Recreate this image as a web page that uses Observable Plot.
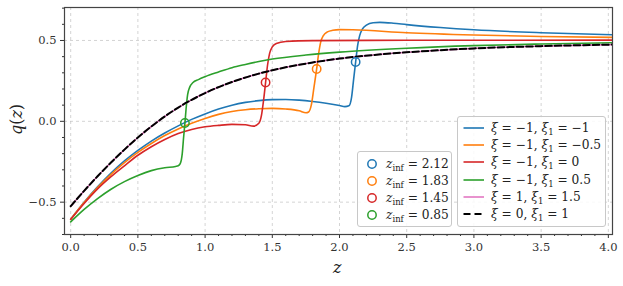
<!DOCTYPE html>
<html><head><meta charset="utf-8">
<script src="https://cdn.jsdelivr.net/npm/d3@7"></script>
<script src="https://cdn.jsdelivr.net/npm/@observablehq/plot@0.6"></script>
<style>
body{margin:0;background:#fff;}
#wrap{position:relative;width:623px;height:286px;font-family:"DejaVu Serif",serif;color:#222;}
#wrap svg text{font-family:"DejaVu Serif",serif !important;font-size:11.5px;fill:#333;}
.leg{position:absolute;background:rgba(255,255,255,0.85);border:1px solid #c8c8c8;border-radius:3px;box-sizing:border-box;}
.row{position:absolute;height:18px;display:flex;align-items:center;font-size:12.2px;white-space:nowrap;}
.row sub{font-size:8.5px;vertical-align:-3px;line-height:0;}
.lab{position:absolute;font-size:16px;font-style:italic;}
</style></head>
<body><div id="wrap"></div>
<script>
// ---- data ----
const zBlue = [0,0.1,0.2,0.3,0.4,0.5,0.6,0.7,0.8,0.9,1.0,1.1,1.2,1.3,1.4,1.5,1.6,1.7,1.8,1.9,2.0,2.04,2.07,2.09,2.105,2.12,2.135,2.15,2.17,2.2,2.25,2.3,2.4,2.5,2.75,3.0,3.5,4.05];
const qBlue = [-0.605,-0.5,-0.405,-0.32,-0.245,-0.18,-0.122,-0.072,-0.028,0.012,0.046,0.076,0.1,0.117,0.128,0.134,0.135,0.131,0.123,0.112,0.098,0.091,0.096,0.15,0.26,0.367,0.47,0.53,0.57,0.595,0.61,0.612,0.607,0.598,0.58,0.566,0.548,0.535];

const zOrange = [0,0.1,0.2,0.3,0.4,0.5,0.6,0.7,0.8,0.9,1.0,1.1,1.2,1.3,1.4,1.5,1.6,1.7,1.75,1.77,1.79,1.81,1.83,1.845,1.86,1.88,1.91,1.95,2.0,2.1,2.5,3.0,3.5,4.05];
const qOrange = [-0.605,-0.502,-0.41,-0.328,-0.255,-0.192,-0.137,-0.088,-0.047,-0.012,0.018,0.043,0.061,0.072,0.078,0.08,0.076,0.065,0.053,0.058,0.1,0.21,0.324,0.42,0.49,0.53,0.553,0.563,0.567,0.566,0.548,0.534,0.525,0.519];

const zRed = [0,0.1,0.2,0.3,0.4,0.5,0.6,0.7,0.8,0.9,1.0,1.1,1.2,1.3,1.36,1.40,1.42,1.435,1.45,1.465,1.48,1.5,1.53,1.6,1.8,2.5,4.05];
const qRed = [-0.607,-0.508,-0.418,-0.342,-0.275,-0.21,-0.157,-0.112,-0.075,-0.05,-0.034,-0.025,-0.019,-0.021,-0.03,-0.012,0.04,0.13,0.24,0.35,0.42,0.46,0.482,0.494,0.499,0.501,0.502];

const zGreen = [0,0.1,0.2,0.3,0.4,0.5,0.6,0.7,0.78,0.8,0.815,0.83,0.84,0.85,0.86,0.87,0.885,0.91,0.95,1.0,1.1,1.2,1.3,1.4,1.5,1.75,2.0,2.5,3.0,3.5,4.05];
const qGreen = [-0.622,-0.545,-0.478,-0.42,-0.373,-0.335,-0.305,-0.287,-0.279,-0.275,-0.262,-0.2,-0.1,-0.01,0.09,0.165,0.21,0.24,0.258,0.276,0.305,0.332,0.352,0.37,0.385,0.41,0.428,0.452,0.468,0.478,0.486];

const zPink = [0,0.1,0.2,0.3,0.4,0.5,0.6,0.7,0.8,0.9,1.0,1.2,1.4,1.6,1.8,2.0,2.25,2.5,2.75,3.0,3.5,4.05];
const qPink = [-0.525,-0.43,-0.34,-0.255,-0.175,-0.1,-0.032,0.03,0.085,0.133,0.175,0.243,0.295,0.334,0.364,0.388,0.41,0.427,0.44,0.451,0.465,0.475];

const zBlack = [0,0.1,0.2,0.3,0.4,0.5,0.6,0.7,0.8,0.9,1.0,1.2,1.4,1.6,1.8,2.0,2.25,2.5,2.75,3.0,3.5,4.05];
const qBlack = [-0.525,-0.43,-0.34,-0.255,-0.175,-0.1,-0.032,0.03,0.085,0.133,0.175,0.243,0.295,0.334,0.364,0.388,0.41,0.427,0.44,0.451,0.465,0.475];

const zInf = [2.12, 1.83, 1.45, 0.85];
const qInf = [0.367, 0.324, 0.24, -0.01];
const infLabels = ["2.12", "1.83", "1.45", "0.85"];

const seriesLabels = [
  ["−1","−1"],["−1","−0.5"],["−1","0"],["−1","0.5"],["1","1.5"],["0","1"]
];
const colors = ["#1f77b4","#ff7f0e","#d62728","#2ca02c","#e377c2","#000000"];

const xMajor = [0,0.5,1,1.5,2,2.5,3,3.5,4];
const xMinor = [0.1,0.2,0.3,0.4,0.6,0.7,0.8,0.9,1.1,1.2,1.3,1.4,1.6,1.7,1.8,1.9,2.1,2.2,2.3,2.4,2.6,2.7,2.8,2.9,3.1,3.2,3.3,3.4,3.6,3.7,3.8,3.9];
const yMajor = [-0.5,0,0.5];
const yMinor = [-0.7,-0.6,-0.4,-0.3,-0.2,-0.1,0.1,0.2,0.3,0.4,0.6,0.7];

// ---- build ----
const toRows = (zs, qs) => zs.map((z,i)=>({z, q: qs[i]}));
const series = [
  toRows(zBlue,qBlue), toRows(zOrange,qOrange), toRows(zRed,qRed),
  toRows(zGreen,qGreen), toRows(zPink,qPink), toRows(zBlack,qBlack)
];
const circles = zInf.map((z,i)=>({z, q:qInf[i], c:colors[i]}));

const lineMarks = series.map((d,i)=>Plot.line(d,{
  x:"z", y:"q", curve:"monotone-x", clip:true,
  stroke: colors[i],
  strokeWidth: i===5 ? 2 : 1.6,
  strokeDasharray: i===5 ? "6.5,3" : null
}));

const FONT = '"DejaVu Serif", serif';
const chart = Plot.plot({
  width:623, height:286,
  marginLeft:64, marginRight:11, marginTop:7, marginBottom:52,
  style:{fontFamily:FONT, fontSize:"11.5px", color:"#333", background:"transparent"},
  x:{domain:[-0.046,4.031]},
  y:{domain:[-0.70,0.704]},
  marks:[
    Plot.gridX(xMajor,{stroke:"#bbb",strokeOpacity:0.8,strokeDasharray:"3,3",strokeWidth:0.8}),
    Plot.gridY(yMajor,{stroke:"#bbb",strokeOpacity:0.8,strokeDasharray:"3,3",strokeWidth:0.8}),
    ...lineMarks,
    Plot.dot(circles,{x:"z",y:"q",r:4.2,stroke:"c",fill:"none",strokeWidth:1.5}),
    Plot.axisX(xMinor,{tickSize:2,tickFormat:()=>"",label:null}),
    Plot.axisX(xMajor,{tickSize:4,tickPadding:4,tickFormat:d3.format(".1f"),label:null}),
    Plot.axisY(yMinor,{tickSize:2,tickFormat:()=>"",label:null}),
    Plot.axisY(yMajor,{tickSize:4,tickPadding:4,tickFormat:d3.format(".1f"),label:null}),
    Plot.frame({stroke:"#444",strokeWidth:1.2})
  ]
});
const wrap = document.getElementById("wrap");
chart.style.position="absolute"; chart.style.left="0"; chart.style.top="0";
wrap.appendChild(chart);

// axis labels
const xl = document.createElement("div");
xl.className="lab"; xl.innerHTML="z"; xl.style.left="333px"; xl.style.top="258px";
wrap.appendChild(xl);
const yl = document.createElement("div");
yl.className="lab"; yl.style.fontStyle="normal";
yl.innerHTML = "<i>q</i>(<i>z</i>)";
yl.style.left="1px"; yl.style.top="110px"; yl.style.transform="rotate(-90deg)";
wrap.appendChild(yl);

// legend 1 (series)
const L1 = document.createElement("div");
L1.className="leg";
Object.assign(L1.style,{left:"457px",top:"116px",width:"149px",height:"111px"});
seriesLabels.forEach((lab,i)=>{
  const r = document.createElement("div");
  r.className="row";
  r.style.left="5px"; r.style.top=(1.7+i*17.3)+"px";
  const dash = i===5 ? 'stroke-dasharray="7,4"' : '';
  r.innerHTML = `<svg width="22" height="6" style="margin-right:6px"><line x1="0.5" y1="3" x2="21" y2="3" stroke="${colors[i]}" stroke-width="${i===5?2:1.6}" ${dash}/></svg>`+
    `<span><i>ξ</i> = ${lab[0]}, <i>ξ</i><sub>1</sub> = ${lab[1]}</span>`;
  L1.appendChild(r);
});
wrap.appendChild(L1);

// legend 2 (z_inf)
const L2 = document.createElement("div");
L2.className="leg";
Object.assign(L2.style,{left:"357px",top:"151px",width:"95px",height:"76px"});
infLabels.forEach((lab,i)=>{
  const r = document.createElement("div");
  r.className="row";
  r.style.left="8px"; r.style.top=(3.3+i*17)+"px";
  r.innerHTML = `<svg width="12" height="12" style="margin-right:8px"><circle cx="6" cy="6" r="4.2" fill="none" stroke="${colors[i]}" stroke-width="1.5"/></svg>`+
    `<span><i>z</i><sub>inf</sub> = ${lab}</span>`;
  L2.appendChild(r);
});
wrap.appendChild(L2);
</script></body></html>
